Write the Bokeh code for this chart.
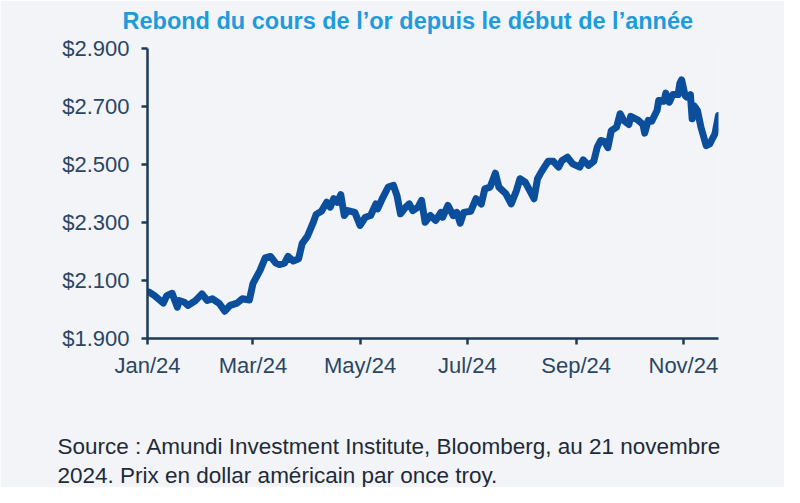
import pandas as pd
from bokeh.plotting import figure
from bokeh.models import FixedTicker, Range1d, Title, LinearAxis
from bokeh.embed import file_html
from bokeh.resources import INLINE

# ---------------- data ----------------
dates = [
    "2024-01-02", "2024-01-05", "2024-01-10", "2024-01-12", "2024-01-15", "2024-01-18",
    "2024-01-19", "2024-01-22", "2024-01-24", "2024-01-28", "2024-02-01", "2024-02-04",
    "2024-02-07", "2024-02-11", "2024-02-14", "2024-02-17", "2024-02-21", "2024-02-24",
    "2024-02-28", "2024-03-01", "2024-03-05", "2024-03-08", "2024-03-11", "2024-03-14",
    "2024-03-16", "2024-03-19", "2024-03-21", "2024-03-24", "2024-03-27", "2024-03-29",
    "2024-04-01", "2024-04-04", "2024-04-06", "2024-04-09", "2024-04-12", "2024-04-14",
    "2024-04-16", "2024-04-18", "2024-04-20", "2024-04-22", "2024-04-24", "2024-04-28",
    "2024-05-01", "2024-05-04", "2024-05-07", "2024-05-10", "2024-05-11", "2024-05-14",
    "2024-05-17", "2024-05-20", "2024-05-22", "2024-05-24", "2024-05-27", "2024-05-29",
    "2024-05-31", "2024-06-03", "2024-06-05", "2024-06-07", "2024-06-10", "2024-06-13",
    "2024-06-16", "2024-06-17", "2024-06-20", "2024-06-23", "2024-06-25", "2024-06-27",
    "2024-06-29", "2024-07-03", "2024-07-06", "2024-07-09", "2024-07-11", "2024-07-14",
    "2024-07-17", "2024-07-19", "2024-07-23", "2024-07-26", "2024-07-29", "2024-07-31",
    "2024-08-03", "2024-08-08", "2024-08-10", "2024-08-12", "2024-08-16", "2024-08-19",
    "2024-08-22", "2024-08-24", "2024-08-27", "2024-08-30", "2024-09-03", "2024-09-05",
    "2024-09-08", "2024-09-11", "2024-09-13", "2024-09-15", "2024-09-17", "2024-09-19",
    "2024-09-21", "2024-09-24", "2024-09-26", "2024-09-28", "2024-10-01", "2024-10-02",
    "2024-10-06", "2024-10-09", "2024-10-10", "2024-10-12", "2024-10-14", "2024-10-17",
    "2024-10-18", "2024-10-21", "2024-10-22", "2024-10-24", "2024-10-26", "2024-10-29",
    "2024-10-30", "2024-10-31", "2024-11-02", "2024-11-03", "2024-11-05", "2024-11-06",
    "2024-11-07", "2024-11-09", "2024-11-11", "2024-11-14", "2024-11-16", "2024-11-19",
    "2024-11-21",
]
prices = [
    2060, 2048, 2022, 2048, 2056, 2008,
    2031, 2025, 2014, 2029, 2054, 2031,
    2037, 2020, 1994, 2014, 2022, 2037,
    2033, 2089, 2134, 2178, 2183, 2160,
    2155, 2160, 2183, 2167, 2175, 2227,
    2252, 2295, 2328, 2339, 2370, 2353,
    2382, 2370, 2396, 2324, 2341, 2335,
    2290, 2318, 2324, 2364, 2347, 2387,
    2422, 2428, 2393, 2330, 2353, 2364,
    2341, 2353, 2376, 2301, 2324, 2307,
    2335, 2318, 2359, 2324, 2335, 2298,
    2335, 2339, 2382, 2364, 2416, 2422,
    2470, 2422, 2399, 2364, 2410, 2451,
    2439, 2382, 2451, 2473, 2511, 2511,
    2491, 2514, 2525, 2502, 2491, 2516,
    2497, 2511, 2560, 2583, 2580, 2558,
    2617, 2629, 2675, 2652, 2638, 2666,
    2654, 2638, 2608, 2652, 2649, 2686,
    2721, 2718, 2746, 2715, 2741, 2741,
    2780, 2792, 2738, 2732, 2741, 2658,
    2703, 2686, 2629, 2565, 2571, 2606,
    2669,
]
x_tick_dates = ["2024-01-01", "2024-03-01", "2024-05-01", "2024-07-01", "2024-09-01", "2024-11-01"]
x_tick_labels = ["Jan/24", "Mar/24", "May/24", "Jul/24", "Sep/24", "Nov/24"]
y_ticks = [1900, 2100, 2300, 2500, 2700, 2900]
y_tick_labels = ["$1.900", "$2.100", "$2.300", "$2.500", "$2.700", "$2.900"]
x_start, x_end = "2024-01-01", "2024-11-21"

title_text = "Rebond du cours de l\u2019or depuis le d\u00e9but de l\u2019ann\u00e9e"
source_lines = [
    "Source : Amundi Investment Institute, Bloomberg, au 21 novembre",
    "2024. Prix en dollar am\u00e9ricain par once troy.",
]

# ---------------- styling ----------------
BG = "#f2f4f7"
LINE = "#0b4e9c"
AXIS = "#1d3a56"
TICKTXT = "#2b4662"
TITLE = "#1f9bdb"
NOTE = "#1e2a38"
FONT = "Liberation Sans"


def ms(d):
    return int(pd.Timestamp(d).value // 10**6)


x = pd.to_datetime(dates)

p = figure(
    width=784, height=487, output_backend="svg", toolbar_location=None,
    x_axis_type="datetime",
    x_range=Range1d(ms(x_start), ms(x_end)),
    y_range=Range1d(y_ticks[0], y_ticks[-1]),
    min_border_left=147, min_border_right=66, min_border_top=48, min_border_bottom=149,
    background_fill_color=BG, border_fill_color=BG,
)
p.outline_line_color = None
p.grid.grid_line_color = None

p.line(x, prices, line_width=7, line_color=LINE, line_join="round", line_cap="round")

# x axis
xt = [ms(d) for d in x_tick_dates]
p.xaxis.ticker = FixedTicker(ticks=xt, minor_ticks=[])
p.xaxis.major_label_overrides = {t: l for t, l in zip(xt, x_tick_labels)}
# y axis
p.yaxis.ticker = FixedTicker(ticks=y_ticks, minor_ticks=[])
p.yaxis.major_label_overrides = {t: l for t, l in zip(y_ticks, y_tick_labels)}

for ax in (p.xaxis, p.yaxis):
    ax.axis_line_color = AXIS
    ax.axis_line_width = 2.5
    ax.major_tick_line_color = AXIS
    ax.major_tick_line_width = 2.5
    ax.major_tick_out = 6
    ax.major_tick_in = 0
    ax.minor_tick_line_color = None
    ax.major_label_text_font = FONT
    ax.major_label_text_font_size = "22px"
    ax.major_label_text_color = TICKTXT
p.xaxis.major_label_standoff = 8
p.yaxis.major_label_standoff = 12
# invisible spacer below the x tick labels (pushes the source note down)
p.xaxis.axis_label = "\u00a0"
p.xaxis.axis_label_text_font_size = "1px"
p.xaxis.axis_label_standoff = 47

# invisible spacer between the plot frame and the title
spacer = LinearAxis(
    ticker=FixedTicker(ticks=[]), axis_line_color=None, major_tick_line_color=None,
    minor_tick_line_color=None, major_tick_out=0, major_tick_in=0,
    major_label_standoff=0, axis_label="\u00a0", axis_label_text_font_size="1px",
    axis_label_standoff=11,
)
p.add_layout(spacer, "above")

# title
p.title.text = title_text
p.title.align = "left"
p.title.offset = -25
p.title.standoff = 0
p.title.text_font = FONT
p.title.text_font_style = "bold"
p.title.text_font_size = "23.5px"
p.title.text_color = TITLE

# footnote (two lines)
p.add_layout(Title(
    text="\n".join(source_lines), align="left", offset=-90, standoff=0,
    text_font=FONT, text_font_size="22.5px", text_font_style="normal",
    text_color=NOTE, text_line_height=1.14,
), "below")

open("out.html", "w").write(file_html(p, INLINE))
